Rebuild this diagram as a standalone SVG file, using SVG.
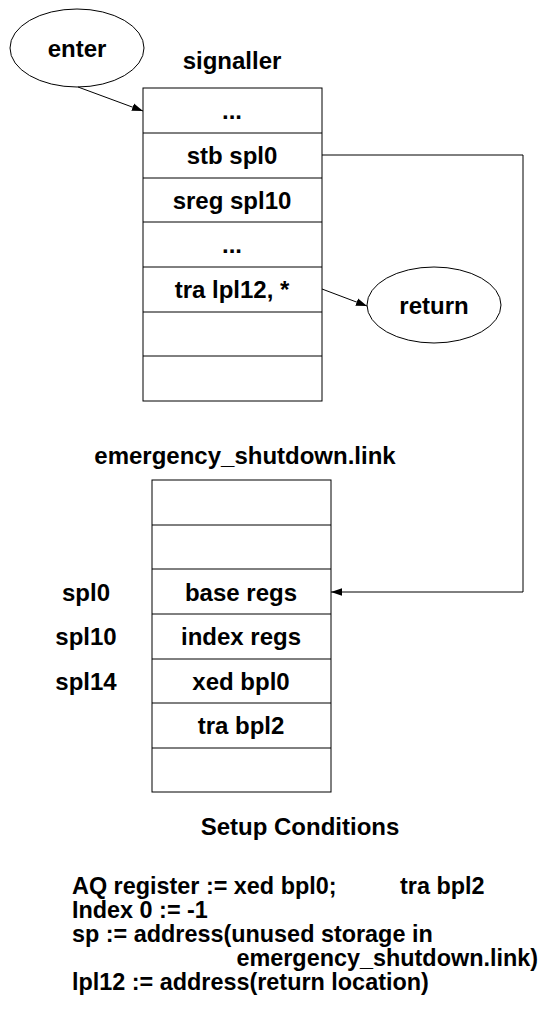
<svg xmlns="http://www.w3.org/2000/svg" width="542" height="1016" viewBox="0 0 542 1016">
<style>
text{font-family:"Liberation Sans",Arial,Helvetica,sans-serif;font-weight:bold;font-size:24px;fill:#000}
.c{text-anchor:middle}
.s{font-size:23.4px}
.box{fill:#fff;stroke:#000;stroke-width:1}
.ln{fill:none;stroke:#000;stroke-width:1}
</style>
<defs>
<marker id="ah" viewBox="0 0 10 10" refX="10" refY="5" markerWidth="11" markerHeight="11" markerUnits="userSpaceOnUse" orient="auto">
<path d="M0,1.5 L10,5 L0,8.5 z" fill="#000"/>
</marker>
</defs>
<rect width="542" height="1016" fill="#fff"/>
<g id="enter">
<ellipse class="box" cx="77" cy="48" rx="67" ry="39"/>
<text class="c" x="77" y="57">enter</text>
</g>
<g id="signaller">
<text class="c" x="232" y="69">signaller</text>
<rect class="box" x="143" y="88" width="179" height="313"/>
<path class="ln" d="M143,133H322M143,178H322M143,222H322M143,267H322M143,312H322M143,356H322"/>
<text class="c" x="232" y="119">...</text>
<text class="c" x="232" y="164">stb spl0</text>
<text class="c" x="232" y="209">sreg spl10</text>
<text class="c" x="232" y="253">...</text>
<text class="c" x="232" y="298">tra lpl12, *</text>
</g>
<g id="return">
<ellipse class="box" cx="434" cy="305" rx="67" ry="38"/>
<text class="c" x="434" y="314">return</text>
</g>
<g id="link">
<text class="c" x="245" y="464">emergency_shutdown.link</text>
<rect class="box" x="152" y="480" width="179" height="312"/>
<path class="ln" d="M152,525H331M152,569H331M152,614H331M152,659H331M152,703H331M152,748H331"/>
<text class="c" x="241" y="601">base regs</text>
<text class="c" x="241" y="645">index regs</text>
<text class="c" x="241" y="690">xed bpl0</text>
<text class="c" x="241" y="734">tra bpl2</text>
<text class="c" x="86" y="601">spl0</text>
<text class="c" x="86" y="645">spl10</text>
<text class="c" x="86" y="690">spl14</text>
</g>
<g id="connectors">
<path class="ln" d="M78,87L143,111" marker-end="url(#ah)"/>
<path class="ln" d="M322,289L367,306" marker-end="url(#ah)"/>
<path class="ln" d="M322,155H523V592H331" marker-end="url(#ah)"/>
</g>
<g id="setup">
<text class="c" x="300" y="835">Setup Conditions</text>
<text class="s" x="72" y="894">AQ register := xed bpl0;<tspan x="400">tra bpl2</tspan></text>
<text class="s" x="72" y="918">Index 0 := -1</text>
<text class="s" x="72" y="942">sp := address(unused storage in</text>
<text class="s" x="538" y="966" text-anchor="end">emergency_shutdown.link)</text>
<text class="s" x="72" y="990">lpl12 := address(return location)</text>
</g>
</svg>
